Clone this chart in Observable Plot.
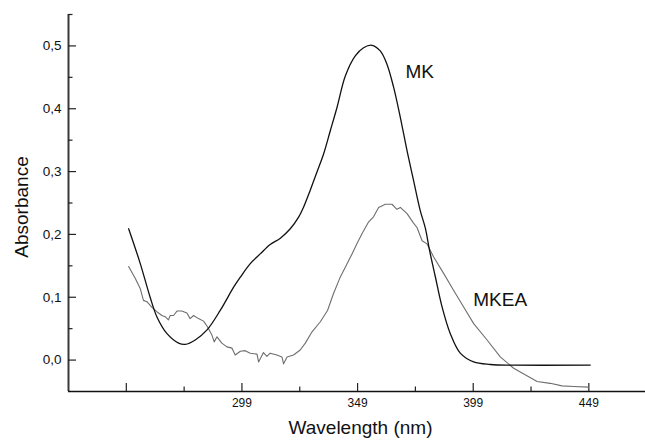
<!DOCTYPE html>
<html>
<head>
<meta charset="utf-8">
<script src="https://cdn.jsdelivr.net/npm/d3@7"></script>
<script src="https://cdn.jsdelivr.net/npm/@observablehq/plot@0.6"></script>
<style>
  html, body { margin: 0; padding: 0; background: #fff; }
  #chart svg { display: block; }
</style>
</head>
<body>
<div id="chart"></div>
<script>
// ---- data ----
const wavelengthMK = [250, 255, 259.3, 262.2, 266.6, 271.6, 274.5, 278.8, 283.9, 289.6, 295.4, 298.3, 302.6, 306.9, 311.2, 315.6, 319.9, 323.5, 325.6, 328.5, 331.4, 334.3, 337.2, 340.1, 343.7, 348.0, 351.6, 355.2, 358.8, 361.7, 364.6, 367.5, 370.4, 373.2, 376.1, 378.3, 380.1, 382.6, 385.5, 389.1, 393.4, 399.2, 406.4, 416.5, 449.6];
const absorbanceMK = [0.209, 0.154, 0.100, 0.069, 0.042, 0.027, 0.025, 0.032, 0.048, 0.079, 0.116, 0.132, 0.1535, 0.169, 0.184, 0.194, 0.209, 0.2275, 0.243, 0.270, 0.299, 0.328, 0.365, 0.402, 0.452, 0.484, 0.497, 0.501, 0.492, 0.471, 0.434, 0.386, 0.333, 0.286, 0.238, 0.210, 0.175, 0.133, 0.085, 0.042, 0.011, -0.003, -0.007, -0.008, -0.008];

const wavelengthMKEA = [250.0, 252.9, 255.0, 256.4, 257.9, 260.1, 262.2, 264.4, 265.8, 267.2, 268.0, 269.4, 270.9, 273.0, 275.2, 276.6, 278.1, 280.2, 282.4, 284.1, 286.0, 287.0, 288.2, 290.3, 292.5, 294.7, 296.1, 298.3, 300.4, 302.6, 305.5, 306.2, 308.3, 309.8, 311.2, 314.1, 316.3, 317.0, 318.5, 321.3, 324.2, 326.4, 329.3, 332.9, 336.0, 338.6, 341.5, 344.4, 346.6, 348.7, 350.9, 353.8, 355.9, 358.1, 361.0, 363.9, 366.0, 367.5, 370.4, 373.2, 374.7, 376.9, 379.0, 381.9, 386.2, 390.5, 394.8, 399.2, 405.0, 410.7, 416.5, 425.1, 426.6, 432.3, 437.4, 442.4, 448.9];
const absorbanceMKEA = [0.149, 0.130, 0.114, 0.095, 0.093, 0.084, 0.077, 0.071, 0.069, 0.064, 0.071, 0.071, 0.078, 0.078, 0.075, 0.066, 0.071, 0.066, 0.062, 0.053, 0.040, 0.029, 0.037, 0.027, 0.021, 0.019, 0.008, 0.014, 0.015, 0.011, 0.0095, -0.003, 0.012, 0.006, 0.011, 0.008, 0.005, -0.006, 0.005, 0.008, 0.016, 0.027, 0.045, 0.061, 0.079, 0.106, 0.132, 0.153, 0.169, 0.185, 0.201, 0.220, 0.228, 0.243, 0.248, 0.248, 0.240, 0.243, 0.233, 0.218, 0.211, 0.190, 0.185, 0.164, 0.138, 0.111, 0.085, 0.058, 0.032, 0.005, -0.013, -0.031, -0.034, -0.037, -0.041, -0.042, -0.043];

const seriesNames = ["MK", "MKEA"];
const labelWavelength = [369.7, 399];
const labelAbsorbance = [0.458, 0.096];

const xDomain = [224, 473.5];
const yDomain = [-0.05, 0.55];
const yMajorTicks = [0, 0.1, 0.2, 0.3, 0.4, 0.5];
const yMinorTicks = [0.05, 0.15, 0.25, 0.35, 0.45, 0.55];
const xMajorTicks = [249, 299, 349, 399, 449];
const xMinorTicks = [274, 324, 374, 424];
const xTickLabels = [299, 349, 399, 449];

// ---- build tables ----
const mk = wavelengthMK.map((w, i) => ({wavelength: w, absorbance: absorbanceMK[i]}));
const mkea = wavelengthMKEA.map((w, i) => ({wavelength: w, absorbance: absorbanceMKEA[i]}));
const labels = seriesNames.map((s, i) => ({name: s, wavelength: labelWavelength[i], absorbance: labelAbsorbance[i]}));

const W = 645, H = 444, mL = 68, mR = 0, mT = 14, mB = 53;
const innerW = W - mL - mR, innerH = H - mT - mB;
const font = "'Liberation Sans', Arial, Helvetica, sans-serif";
const fmt = d => d.toFixed(1).replace(".", ",");

const chart = Plot.plot({
  width: W,
  height: H,
  marginLeft: mL,
  marginRight: mR,
  marginTop: mT,
  marginBottom: mB,
  x: {domain: xDomain, axis: null},
  y: {domain: yDomain, axis: null},
  style: {fontFamily: font, background: "#fff", color: "#000", overflow: "visible"},
  marks: [
    // axis lines
    Plot.ruleX([xDomain[0]], {stroke: "#3a3a3a", strokeWidth: 2}),
    Plot.ruleY([yDomain[0]], {stroke: "#111", strokeWidth: 1.6}),
    // y ticks (inward)
    Plot.ruleY(yMajorTicks, {insetRight: innerW - 8, stroke: "#222", strokeWidth: 1.2}),
    Plot.ruleY(yMinorTicks, {insetRight: innerW - 4.5, stroke: "#222", strokeWidth: 1.2}),
    // x ticks (inward)
    Plot.ruleX(xMajorTicks, {insetTop: innerH - 8, stroke: "#222", strokeWidth: 1.2}),
    Plot.ruleX(xMinorTicks, {insetTop: innerH - 4.5, stroke: "#222", strokeWidth: 1.2}),
    // tick labels
    Plot.text(yMajorTicks, {y: d => d, frameAnchor: "left", text: fmt, textAnchor: "end", dx: -7, fontSize: 13.5, fill: "#111", letterSpacing: "-0.6px"}),
    Plot.text(xTickLabels, {x: d => d, frameAnchor: "bottom", text: d => String(d), dy: 15, fontSize: 12, fill: "#111", letterSpacing: "-0.8px"}),
    // axis titles
    Plot.text(["Wavelength (nm)"], {frameAnchor: "bottom", dx: 3.5, dy: 42, fontSize: 19, fill: "#111"}),
    Plot.text(["Absorbance"], {frameAnchor: "left", textAnchor: "middle", rotate: -90, dx: -47, dy: 4, fontSize: 19, fill: "#111"}),
    // series
    Plot.line(mkea, {x: "wavelength", y: "absorbance", stroke: "#6e6e6e", strokeWidth: 1.1}),
    Plot.line(mk, {x: "wavelength", y: "absorbance", stroke: "#111", strokeWidth: 1.3, curve: "catmull-rom"}),
    // series labels
    Plot.text(labels, {x: "wavelength", y: "absorbance", text: "name", textAnchor: "start", fontSize: 19, fill: "#111", letterSpacing: "-0.8px"})
  ]
});
document.getElementById("chart").appendChild(chart);
</script>
</body>
</html>
